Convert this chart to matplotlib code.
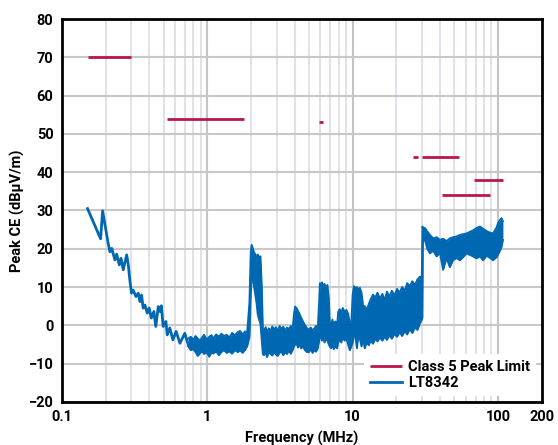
import matplotlib
matplotlib.use("Agg")
import matplotlib.pyplot as plt
from matplotlib.ticker import FixedLocator, NullFormatter

plt.rcParams['font.family'] = ['Roboto', 'DejaVu Sans']

# Class 5 peak limit segments: (start MHz, stop MHz, level dBuV/m)
limit_start = [0.15, 0.53, 5.9, 26.0, 30.0, 41.0, 68.0]
limit_stop = [0.30, 1.8, 6.2, 28.0, 54.0, 88.0, 108.0]
limit_level = [70, 54, 53, 44, 44, 34, 38]

# LT8342 trace, low-frequency single line part
line_f = [0.15, 0.1845, 0.1905, 0.208, 0.214, 0.22, 0.2315, 0.238, 0.248, 0.255,
          0.264, 0.279, 0.286, 0.294, 0.301, 0.309, 0.323, 0.335, 0.344, 0.353,
          0.362, 0.372, 0.386, 0.398, 0.412, 0.429, 0.442, 0.46, 0.472, 0.483,
          0.497, 0.519, 0.53, 0.552, 0.58, 0.61, 0.648, 0.70, 0.74]
line_v = [30.5, 22.6, 29.9, 21.4, 19.2, 20.1, 17.1, 18.6, 15.8, 17.5,
          14.5, 18.4, 15.8, 11.4, 8.4, 9.2, 7.5, 8.4, 6.2, 7.9,
          4.5, 5.3, 3.2, 4.5, 1.9, 3.6, -0.3, 4.9, 3.6, 5.1,
          -0.3, 1.0, -2.5, -0.7, -3.8, -1.6, -4.7, -2.1, -5.1]

# LT8342 trace, dense part: envelope (upper / lower)
band_f = [0.74, 0.77, 0.80, 0.83, 0.86, 0.89, 0.92, 0.95, 0.99, 1.03,
          1.07, 1.10, 1.15, 1.20, 1.25, 1.30, 1.36, 1.42, 1.48, 1.55,
          1.62, 1.68, 1.75, 1.82, 1.88, 1.95, 1.99, 2.02, 2.06, 2.10,
          2.14, 2.18, 2.22, 2.27, 2.32, 2.37, 2.41, 2.45, 2.52, 2.58,
          2.65, 2.72, 2.80, 2.88, 2.96, 3.05, 3.14, 3.23, 3.33, 3.43,
          3.53, 3.64, 3.75, 3.86, 3.95, 4.02, 4.10, 4.20, 4.30, 4.42,
          4.55, 4.70, 4.85, 5.00, 5.15, 5.30, 5.45, 5.60, 5.75, 5.88,
          5.95, 6.05, 6.15, 6.28, 6.40, 6.55, 6.70, 6.85, 6.95, 7.10,
          7.25, 7.40, 7.60, 7.80, 7.95, 8.15, 8.35, 8.55, 8.80, 9.05,
          9.30, 9.55, 9.80, 10.0, 10.2, 10.45, 10.7, 10.95, 11.2, 11.5,
          11.8, 12.1, 12.5, 12.9, 13.3, 13.8, 14.3, 14.8, 15.4, 16.0,
          16.6, 17.2, 17.9, 18.6, 19.4, 20.2, 21.0, 21.9, 22.8, 23.7,
          24.7, 25.7, 26.8, 27.9, 29.0, 29.9, 30.2, 30.4, 31.4, 32.6,
          34.0, 35.8, 37.8, 39.8, 41.9, 44.2, 46.6, 49.0, 51.8, 54.6,
          57.5, 60.7, 64.0, 67.4, 71.0, 75.0, 79.0, 83.4, 88.0, 92.5,
          97.6, 100.0, 103.0, 105.7, 108.0]
band_hi = [-3.5, -3.0, -3.8, -2.8, -3.5, -4.0, -3.2, -2.5, -3.8, -3.0,
           -2.6, -3.5, -2.4, -3.0, -2.2, -2.8, -2.5, -3.2, -2.0, -2.6,
           -1.8, -1.5, -2.4, -1.6, -2.0, 6.0, 19.0, 21.0, 20.0, 19.0,
           18.5, 17.0, 18.5, 17.8, 18.0, 10.0, -1.0, -1.5, -0.5, -1.8,
           -0.8, -1.5, -0.3, -1.2, -0.5, -1.6, -0.2, -1.0, -0.4, -1.4,
           -0.6, -1.0, -0.2, -1.0, 3.0, 4.9, 4.5, 3.8, 3.0, 2.0,
           1.0, 0.0, -0.8, -1.2, -0.6, -1.4, -0.8, -0.2, -1.0, 6.0,
           11.0, 10.5, 11.2, 10.2, 10.8, 10.0, 10.5, 7.0, 1.0, -0.5,
           1.5, 0.0, 1.0, -0.5, 3.5, 4.2, 3.0, 4.5, 3.5, 4.0,
           3.0, 0.5, 1.0, 8.0, 10.2, 9.5, 10.0, 9.2, 9.8, 8.5,
           5.0, 5.0, 4.0, 5.5, 6.8, 8.0, 7.2, 8.5, 7.0, 8.2,
           6.5, 8.8, 7.5, 9.0, 7.8, 9.5, 8.5, 10.0, 9.0, 11.0,
           10.2, 11.5, 10.5, 12.0, 12.7, 12.5, 25.8, 25.5, 25.4, 24.5,
           23.6, 22.7, 23.0, 22.3, 22.6, 22.0, 22.7, 23.0, 23.2, 23.6,
           23.8, 24.0, 24.4, 24.8, 25.4, 25.8, 25.2, 24.6, 24.2, 24.0,
           25.5, 26.7, 27.5, 28.0, 27.2]
band_lo = [-5.5, -6.5, -6.2, -7.0, -8.0, -7.3, -6.8, -7.5, -7.0, -8.2,
           -7.0, -7.4, -6.8, -7.8, -7.0, -6.5, -7.2, -6.8, -7.4, -6.5,
           -7.0, -6.6, -7.2, -6.4, -5.5, -3.0, 8.0, 13.0, 12.0, 10.0,
           8.0, 6.0, 3.0, 1.5, 0.5, -4.0, -7.5, -7.8, -7.0, -8.3,
           -6.8, -7.5, -7.9, -6.9, -7.6, -8.0, -7.2, -6.8, -7.8, -7.0,
           -7.5, -6.6, -7.4, -6.5, -5.5, -5.0, -4.5, -5.8, -5.0, -6.0,
           -5.5, -6.5, -7.0, -7.0, -6.2, -7.2, -6.5, -6.9, -6.0, -4.0,
           -3.0, -2.5, -4.0, -3.0, -4.5, -3.5, -4.0, -5.0, -5.5, -6.0,
           -5.0, -6.2, -5.5, -6.0, -4.5, -3.5, -4.5, -3.0, -4.0, -3.5,
           -5.0, -6.5, -5.5, -4.5, -2.5, -3.0, -6.0, -2.5, -3.5, -5.5,
           -3.5, -6.0, -4.5, -5.2, -4.0, -4.8, -3.5, -4.2, -3.2, -4.0,
           -3.0, -3.8, -2.6, -3.5, -2.2, -3.0, -1.8, -2.8, -1.5, -2.4,
           -1.0, -2.0, -0.6, -1.2, 0.5, 1.5, 2.0, 22.0, 22.3, 20.0,
           18.8, 19.5, 18.0, 19.0, 14.5, 17.6, 15.2, 17.0, 17.6, 17.0,
           17.8, 18.8, 18.4, 18.0, 17.5, 18.0, 17.0, 18.2, 17.6, 17.0,
           17.8, 18.5, 19.5, 20.5, 22.3]

x_ticks = [0.1, 1, 10, 100, 200]
x_tick_labels = ["0.1", "1", "10", "100", "200"]
y_ticks = list(range(-20, 81, 10))

RED = "#b8164c"
BLUE = "#0068b3"

fig = plt.figure(figsize=(5.58, 4.45), dpi=100)
ax = fig.add_axes([0.111, 0.097, 0.860, 0.860])

ax.set_xscale("log")
ax.set_xlim(0.1, 200)
ax.set_ylim(-20, 80)

# grid
minor = []
for dec in [0.1, 1, 10, 100]:
    for k in range(2, 10):
        v = dec * k
        if v < 200:
            minor.append(v)
ax.xaxis.set_major_locator(FixedLocator(x_ticks))
ax.xaxis.set_minor_locator(FixedLocator(minor))
ax.xaxis.set_minor_formatter(NullFormatter())
ax.set_xticklabels(x_tick_labels)
ax.set_yticks(y_ticks)
for v in minor:
    ax.axvline(v, color="#dcdce6", lw=1.2, zorder=0)
for v in [1, 10, 100]:
    ax.axvline(v, color="#c4c4c4", lw=1.5, zorder=0)
for v in y_ticks:
    ax.axhline(v, color="#c8c8c8", lw=1.5, zorder=0)

ax.tick_params(which="both", length=0, labelsize=10.5, pad=6)
for lab in ax.get_xticklabels() + ax.get_yticklabels():
    lab.set_fontweight("bold")

for s in ax.spines.values():
    s.set_linewidth(2)
    s.set_color("black")

# limits
for i, (a, b, lv) in enumerate(zip(limit_start, limit_stop, limit_level)):
    ax.plot([a, b], [lv, lv], color=RED, lw=2, solid_capstyle="butt",
            label="Class 5 Peak Limit" if i == 0 else None, zorder=3)

# trace
ax.plot(line_f, line_v, color=BLUE, lw=2.0, label="LT8342", zorder=4)
ax.fill_between(band_f, band_lo, band_hi, color=BLUE, lw=0, zorder=4)
ax.plot(band_f, band_hi, color=BLUE, lw=1.4, zorder=4)
ax.plot(band_f, band_lo, color=BLUE, lw=1.4, zorder=4)

ax.set_xlabel("Frequency (MHz)", fontsize=10.5, fontweight="bold", labelpad=5)
ax.set_ylabel("Peak CE (dBµV/m)", fontsize=10.5, fontweight="bold", labelpad=3)

leg = ax.legend(loc="lower right", frameon=True, fontsize=10.5, handlelength=2.2,
                borderaxespad=0.4, handletextpad=0.4, labelspacing=0.15,
                fancybox=False)
leg.get_frame().set_edgecolor("none")
leg.get_frame().set_facecolor("white")
leg.get_frame().set_alpha(1)
for t in leg.get_texts():
    t.set_fontweight("bold")

fig.savefig("out.png", dpi=100)
